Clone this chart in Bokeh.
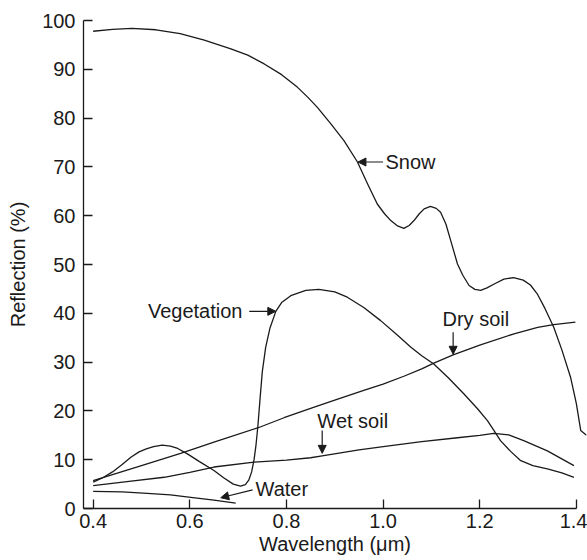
from bokeh.plotting import figure
from bokeh.models import Range1d, FixedTicker, Arrow, NormalHead, Label
from bokeh.embed import file_html
from bokeh.resources import INLINE

# ---- data ----
snow_x = [0.40, 0.44, 0.48, 0.53, 0.58, 0.63, 0.685, 0.72, 0.754, 0.79, 0.823, 0.845, 0.864, 0.892,
          0.919, 0.947, 0.968, 0.988, 1.003, 1.016, 1.03, 1.043, 1.054, 1.064, 1.075, 1.085, 1.098,
          1.11, 1.119, 1.13, 1.14, 1.154, 1.165, 1.178, 1.19, 1.202, 1.215, 1.23, 1.25, 1.27, 1.29,
          1.305, 1.319, 1.335, 1.353, 1.37, 1.388, 1.40, 1.409, 1.421]
snow_y = [97.8, 98.2, 98.4, 98.1, 97.3, 96.0, 94.2, 92.9, 91.1, 88.9, 86.3, 84.2, 82.2, 78.8,
          75.4, 71.0, 66.5, 62.4, 60.4, 59.0, 57.9, 57.4, 58.0, 59.0, 60.4, 61.4, 61.9,
          61.5, 60.7, 58.3, 54.9, 50.1, 47.8, 45.7, 44.9, 44.7, 45.2, 46.0, 47.0, 47.3, 46.8,
          45.8, 44.0, 41.0, 37.2, 32.5, 26.9, 21.5, 16.0, 15.0]

veg_x = [0.40, 0.42, 0.44, 0.46, 0.478, 0.495, 0.51, 0.525, 0.543, 0.56, 0.575, 0.595, 0.62, 0.65,
         0.67, 0.69, 0.705, 0.715, 0.722, 0.728, 0.733, 0.737, 0.741, 0.745, 0.75, 0.757, 0.766,
         0.778, 0.79, 0.809, 0.84, 0.867, 0.90, 0.926, 0.96, 0.995, 1.03, 1.057, 1.08, 1.105,
         1.135, 1.167, 1.195, 1.216, 1.23, 1.243, 1.265, 1.285, 1.31, 1.34, 1.37, 1.395]
veg_y = [5.4, 6.3, 7.5, 9.0, 10.5, 11.6, 12.2, 12.7, 13.0, 12.8, 12.3, 11.2, 9.6, 7.8,
         6.3, 5.0, 4.6, 4.9, 5.8, 7.5, 10.0, 13.0, 17.0, 22.0, 28.0, 33.0, 37.0,
         40.4, 42.2, 43.6, 44.7, 44.9, 44.4, 43.3, 41.2, 38.5, 35.5, 33.1, 31.3, 29.6,
         26.8, 23.5, 20.5, 18.0, 15.9, 13.9, 11.6, 9.8, 8.8, 8.1, 7.3, 6.4]

dry_x = [0.40, 0.50, 0.581, 0.65, 0.743, 0.795, 0.85, 0.90, 0.96, 1.00, 1.043, 1.08,
         1.105, 1.145, 1.20, 1.271, 1.32, 1.353, 1.398]
dry_y = [5.7, 8.8, 11.3, 13.6, 16.6, 18.6, 20.5, 22.2, 24.2, 25.5, 27.1, 28.6,
         29.8, 31.5, 33.5, 35.8, 37.1, 37.7, 38.2]

wet_x = [0.40, 0.47, 0.547, 0.60, 0.65, 0.733, 0.80, 0.85, 0.874, 0.95, 1.016, 1.08, 1.154, 1.20,
         1.229, 1.26, 1.291, 1.34, 1.395]
wet_y = [4.7, 5.5, 6.4, 7.4, 8.5, 9.5, 9.9, 10.4, 10.8, 12.0, 12.9, 13.7, 14.5, 15.0,
         15.4, 15.1, 13.9, 11.8, 8.8]

water_x = [0.40, 0.46, 0.512, 0.56, 0.602, 0.65, 0.695]
water_y = [3.5, 3.4, 3.1, 2.8, 2.3, 1.7, 1.1]

x_ticks = [0.4, 0.6, 0.8, 1.0, 1.2, 1.4]
x_tick_labels = ["0.4", "0.6", "0.8", "1.0", "1.2", "1.4"]
y_ticks = [0, 10, 20, 30, 40, 50, 60, 70, 80, 90, 100]

# annotations: (text, text_x, text_y, align, arrow_x0, arrow_y0, arrow_x1, arrow_y1)
annotations = [
    ("Snow", 1.005, 71.0, "left", 1.0, 71.0, 0.948, 71.0),
    ("Vegetation", 0.709, 40.5, "right", 0.723, 40.4, 0.778, 40.4),
    ("Dry soil", 1.123, 38.9, "left", 1.145, 36.1, 1.145, 31.6),
    ("Wet soil", 0.864, 18.0, "left", 0.874, 16.0, 0.874, 11.3),
    ("Water", 0.736, 4.0, "left", 0.730, 3.8, 0.664, 2.2),
]

FONT = "Liberation Sans"
INK = "#1a1a1a"

p = figure(width=587, height=560, output_backend="svg", toolbar_location=None,
           x_range=Range1d(0.38, 1.421), y_range=Range1d(0, 100),
           min_border_left=83, min_border_right=1, min_border_top=20, min_border_bottom=52)
p.outline_line_color = None
p.xgrid.visible = False
p.ygrid.visible = False
p.background_fill_color = "white"
p.border_fill_color = "white"

for xs, ys in [(snow_x, snow_y), (veg_x, veg_y), (dry_x, dry_y), (wet_x, wet_y), (water_x, water_y)]:
    p.line(xs, ys, line_color=INK, line_width=1.3, line_join="round")

for ax in (p.xaxis[0], p.yaxis[0]):
    ax.axis_line_color = INK
    ax.axis_line_width = 1.3
    ax.major_tick_line_color = INK
    ax.major_tick_line_width = 1.3
    ax.major_tick_in = 9
    ax.major_tick_out = 0
    ax.minor_tick_line_color = None
    ax.major_label_text_font = FONT
    ax.major_label_text_font_size = "20px"
    ax.major_label_text_color = INK
    ax.axis_label_text_font = FONT
    ax.axis_label_text_font_size = "20px"
    ax.axis_label_text_font_style = "normal"
    ax.axis_label_text_color = INK

p.xaxis[0].ticker = FixedTicker(ticks=x_ticks)
p.xaxis[0].major_label_overrides = {t: l for t, l in zip(x_ticks, x_tick_labels)}
p.xaxis[0].bounds = (0.38, 1.4)
p.xaxis[0].axis_label = "Wavelength (\u03bcm)"
p.xaxis[0].major_label_standoff = 5
p.xaxis[0].axis_label_standoff = 2

p.yaxis[0].ticker = FixedTicker(ticks=y_ticks)
p.yaxis[0].bounds = (0, 100)
p.yaxis[0].axis_label = "Reflection (%)"
p.yaxis[0].major_label_standoff = 8
p.yaxis[0].axis_label_standoff = 10

for text, tx, ty, align, ax0, ay0, ax1, ay1 in annotations:
    p.add_layout(Label(x=tx, y=ty, text=text, text_align=align, text_baseline="middle",
                       text_font=FONT, text_font_size="20px", text_color=INK))
    p.add_layout(Arrow(x_start=ax0, y_start=ay0, x_end=ax1, y_end=ay1,
                       line_color=INK, line_width=1.2,
                       end=NormalHead(size=8, fill_color=INK, line_color=INK)))

open("out.html", "w").write(file_html(p, INLINE))
